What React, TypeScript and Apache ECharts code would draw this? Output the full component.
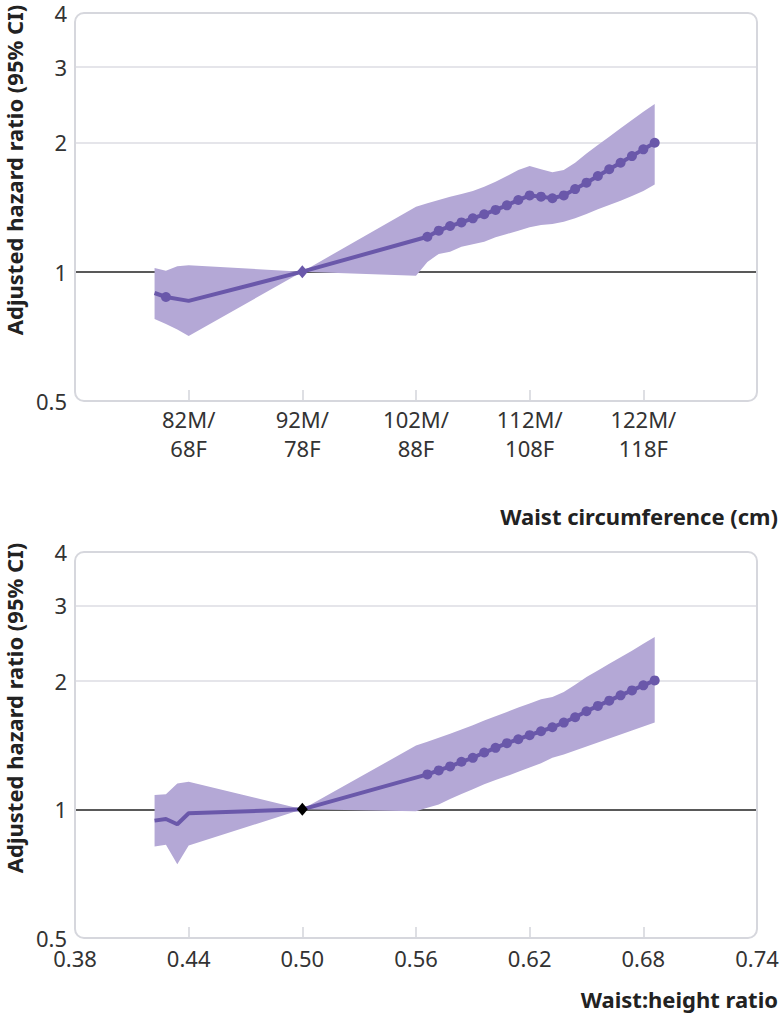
import React, { useEffect, useRef } from "react";
import * as echarts from "echarts";

// ---------- Data: waist circumference (men's cm) ----------
const waistLineX = [79, 80, 82, 92, 103, 104, 105, 106, 107, 108, 109, 110, 111, 112, 113, 114, 115, 116, 117, 118, 119, 120, 121, 122, 123];
const waistLineHR = [0.892, 0.873, 0.855, 1.0, 1.206, 1.246, 1.277, 1.302, 1.331, 1.36, 1.392, 1.427, 1.468, 1.505, 1.495, 1.482, 1.505, 1.557, 1.611, 1.67, 1.731, 1.793, 1.858, 1.926, 1.996];
const waistPlainPoints = [79, 82];
const waistReference = 92;
const waistBandX = [79, 80, 81, 82, 92, 102, 103, 104, 105, 106, 107, 108, 109, 110, 111, 112, 113, 114, 115, 116, 117, 118, 119, 120, 121, 122, 123];
const waistUpper = [1.02, 1.005, 1.03, 1.035, 1.0, 1.416, 1.443, 1.468, 1.495, 1.516, 1.541, 1.577, 1.62, 1.67, 1.724, 1.762, 1.731, 1.703, 1.724, 1.793, 1.885, 1.971, 2.062, 2.156, 2.255, 2.357, 2.456];
const waistLower = [0.776, 0.755, 0.733, 0.708, 1.0, 0.978, 1.053, 1.1, 1.113, 1.143, 1.158, 1.174, 1.202, 1.224, 1.246, 1.268, 1.284, 1.291, 1.307, 1.331, 1.362, 1.397, 1.429, 1.463, 1.5, 1.541, 1.595];
const waistTickMen = [82, 92, 102, 112, 122];
const waistTickWomen = [68, 78, 88, 108, 118];

// ---------- Data: waist:height ratio ----------
const ratioLineX = [0.422, 0.428, 0.434, 0.44, 0.5, 0.566, 0.572, 0.578, 0.584, 0.59, 0.596, 0.602, 0.608, 0.614, 0.62, 0.626, 0.632, 0.638, 0.644, 0.65, 0.656, 0.662, 0.668, 0.674, 0.68, 0.686];
const ratioLineHR = [0.941, 0.949, 0.923, 0.979, 1.0, 1.207, 1.233, 1.26, 1.292, 1.32, 1.358, 1.393, 1.428, 1.459, 1.491, 1.523, 1.556, 1.596, 1.642, 1.696, 1.746, 1.796, 1.848, 1.898, 1.95, 2.003];
const ratioPlainPoints = [0.422, 0.428, 0.434, 0.44];
const ratioReference = 0.5;
const ratioBandX = [0.422, 0.428, 0.434, 0.44, 0.5, 0.56, 0.566, 0.572, 0.578, 0.584, 0.59, 0.596, 0.602, 0.608, 0.614, 0.62, 0.626, 0.632, 0.638, 0.644, 0.65, 0.656, 0.662, 0.668, 0.674, 0.68, 0.686];
const ratioUpper = [1.08, 1.085, 1.15, 1.16, 1.0, 1.41, 1.439, 1.47, 1.502, 1.537, 1.573, 1.613, 1.651, 1.69, 1.73, 1.768, 1.809, 1.832, 1.881, 1.957, 2.04, 2.114, 2.19, 2.27, 2.35, 2.44, 2.53];
const ratioLower = [0.818, 0.826, 0.744, 0.823, 1.0, 0.99, 1.009, 1.027, 1.057, 1.086, 1.115, 1.144, 1.171, 1.196, 1.224, 1.253, 1.281, 1.32, 1.344, 1.373, 1.403, 1.433, 1.464, 1.496, 1.529, 1.562, 1.596];
const ratioTickLabels = [0.38, 0.44, 0.5, 0.56, 0.62, 0.68, 0.74];
const ratioTickInner = [0.44, 0.5, 0.56, 0.62, 0.68];

// ---------- Y ticks (hazard ratio, log scale) ----------
const yTickHR = [0.5, 1, 2, 3, 4];
const yTickLabels = ["0.5", "1", "2", "3", "4"];

const FONT = "'Noto Sans', 'DejaVu Sans', sans-serif";
const LINE_COLOR = "#6a58aa";
const BAND_COLOR = "#b4a8d6";
const GRID_LINE = "#dcdde3";
const BOX_LINE = "#d6d7dd";
const TEXT = "#333333";

const toV = (hr: number) => Math.log2(hr) + 1;
const yTickV = yTickHR.map(toV);

const GRIDS = [
  { left: 75, top: 13, width: 682, height: 388 },
  { left: 75, top: 552, width: 682, height: 386 },
];

function yLabel(v: number) {
  let best = 0;
  for (let i = 1; i < yTickV.length; i++) {
    if (Math.abs(yTickV[i] - v) < Math.abs(yTickV[best] - v)) best = i;
  }
  return yTickLabels[best];
}

function makeYAxis(gridIndex: number) {
  return {
    type: "value",
    gridIndex,
    min: 0,
    max: 3,
    axisLine: { show: false },
    axisTick: { show: false, customValues: yTickV },
    axisLabel: {
      customValues: yTickV,
      formatter: (v: number) => yLabel(v),
      fontSize: 22,
      color: TEXT,
      margin: 8,
      fontFamily: FONT,
    },
    splitLine: {
      show: true,
      lineStyle: {
        color: ["rgba(0,0,0,0)", "#222222", GRID_LINE, GRID_LINE, "rgba(0,0,0,0)"],
        width: 1.6,
      },
    },
    name: "Adjusted hazard ratio (95% CI)",
    nameLocation: "middle",
    nameGap: 48,
    nameTextStyle: {
      fontSize: 22,
      fontWeight: "bold",
      color: "#222222",
      fontFamily: FONT,
      padding: [0, 0, 0, 74],
    },
  };
}

function bandSeries(idx: number, xs: number[], lo: number[], hi: number[]) {
  return {
    type: "custom",
    xAxisIndex: idx,
    yAxisIndex: idx,
    silent: true,
    z: 1,
    encode: { x: 0, y: [1, 2] },
    data: xs.map((x, i) => [x, toV(lo[i]), toV(hi[i])]),
    renderItem: (params: any, api: any) => {
      if (params.dataIndex !== 0) return null;
      const pts: number[][] = [];
      for (let i = 0; i < xs.length; i++) pts.push(api.coord([xs[i], toV(hi[i])]));
      for (let i = xs.length - 1; i >= 0; i--) pts.push(api.coord([xs[i], toV(lo[i])]));
      return {
        type: "polygon",
        shape: { points: pts },
        style: { fill: BAND_COLOR, stroke: "none" },
      };
    },
  };
}

function lineSeries(idx: number, xs: number[], hrs: number[], plain: number[], ref: number, refColor: string) {
  return {
    type: "line",
    xAxisIndex: idx,
    yAxisIndex: idx,
    showSymbol: true,
    showAllSymbol: true,
    symbol: "circle",
    symbolSize: 10,
    lineStyle: { color: LINE_COLOR, width: 4 },
    itemStyle: { color: LINE_COLOR },
    z: 3,
    data: xs.map((x, i) => {
      if (x === ref) {
        return { value: [x, toV(hrs[i])], symbol: "diamond", symbolSize: [11, 13], itemStyle: { color: refColor } };
      }
      if (plain.indexOf(x) >= 0) {
        return { value: [x, toV(hrs[i])], symbol: "none" };
      }
      return { value: [x, toV(hrs[i])] };
    }),
  };
}

export default function App() {
  const ref = useRef<HTMLDivElement>(null);
  useEffect(() => {
    if (!ref.current) return;
    const chart = echarts.init(ref.current, null, { renderer: "svg" });
    const option = {
      animation: false,
      backgroundColor: "#ffffff",
      textStyle: { fontFamily: FONT },
      title: [
        {
          text: "Waist circumference (cm)",
          right: 2,
          top: 505,
          padding: 0,
          textStyle: { fontSize: 22, fontWeight: "bold", color: "#222222", fontFamily: FONT },
        },
        {
          text: "Waist:height ratio",
          right: 2,
          top: 988,
          padding: 0,
          textStyle: { fontSize: 22, fontWeight: "bold", color: "#222222", fontFamily: FONT },
        },
      ],
      grid: GRIDS.map((g) => ({ ...g, outerBoundsMode: "none", containLabel: false })),
      xAxis: [
        {
          type: "value",
          gridIndex: 0,
          min: 72,
          max: 132,
          axisLine: { show: false },
          splitLine: { show: false },
          axisTick: {
            show: true,
            inside: true,
            length: 11,
            customValues: waistTickMen,
            lineStyle: { color: BOX_LINE, width: 1.6 },
          },
          axisLabel: {
            customValues: waistTickMen,
            formatter: (v: number) => {
              const i = waistTickMen.indexOf(Math.round(v));
              return i >= 0 ? `${waistTickMen[i]}M/\n${waistTickWomen[i]}F` : "";
            },
            fontSize: 22,
            lineHeight: 29,
            color: TEXT,
            margin: 3,
            fontFamily: FONT,
          },
        },
        {
          type: "value",
          gridIndex: 1,
          min: 0.38,
          max: 0.74,
          axisLine: { show: false },
          splitLine: { show: false },
          axisTick: {
            show: true,
            inside: true,
            length: 11,
            customValues: ratioTickInner,
            lineStyle: { color: BOX_LINE, width: 1.6 },
          },
          axisLabel: {
            customValues: ratioTickLabels,
            formatter: (v: number) => v.toFixed(2),
            fontSize: 22,
            lineHeight: 31,
            color: TEXT,
            margin: 4,
            fontFamily: FONT,
          },
        },
      ],
      yAxis: [makeYAxis(0), makeYAxis(1)],
      series: [
        bandSeries(0, waistBandX, waistLower, waistUpper),
        lineSeries(0, waistLineX, waistLineHR, waistPlainPoints, waistReference, LINE_COLOR),
        bandSeries(1, ratioBandX, ratioLower, ratioUpper),
        lineSeries(1, ratioLineX, ratioLineHR, ratioPlainPoints, ratioReference, "#000000"),
      ],
      graphic: GRIDS.map((g) => ({
        type: "rect",
        silent: true,
        z: 100,
        shape: { x: g.left, y: g.top, width: g.width, height: g.height, r: 9 },
        style: { fill: "none", stroke: BOX_LINE, lineWidth: 2 },
      })),
    };
    chart.setOption(option as any);
    return () => chart.dispose();
  }, []);
  return (
    <div
      ref={ref}
      style={{ position: "absolute", left: 0, top: 0, width: 780, height: 1017, background: "#fff" }}
    />
  );
}
